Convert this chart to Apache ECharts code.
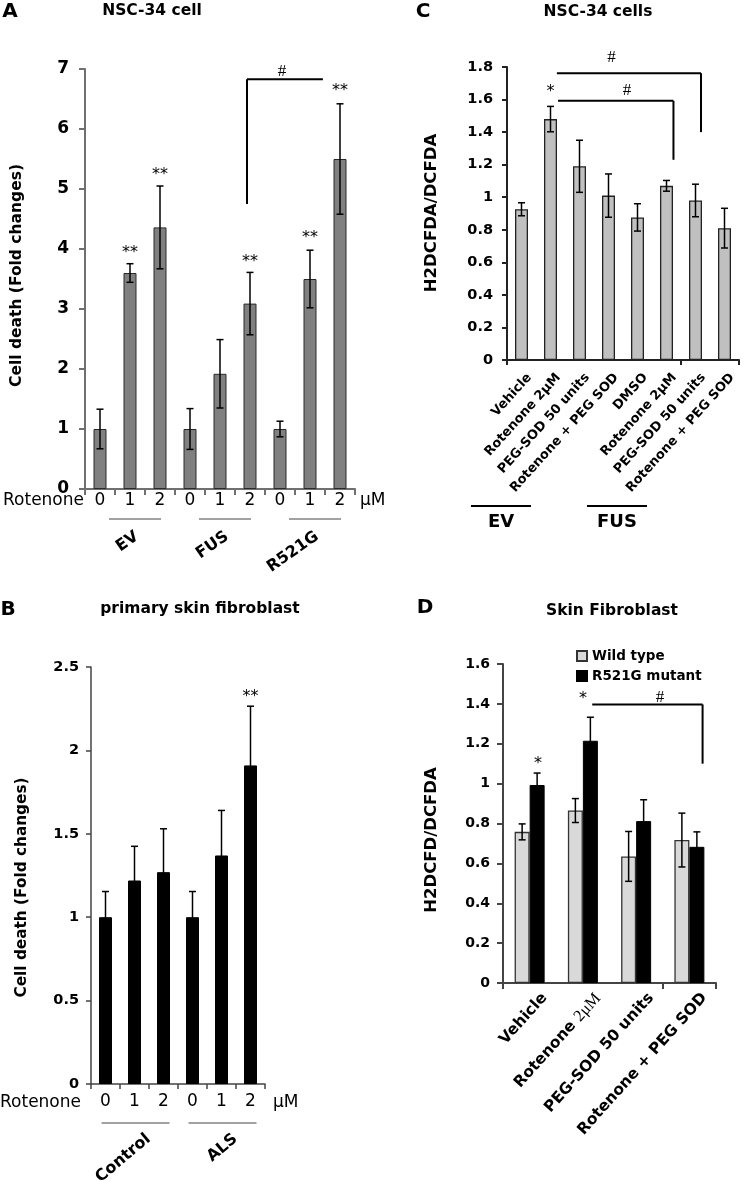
<!DOCTYPE html>
<html><head><meta charset="utf-8">
<script src="https://cdn.jsdelivr.net/npm/echarts@6/dist/echarts.min.js"></script>
<style>html,body{margin:0;padding:0;background:#fff}#c{width:750px;height:1181px}</style>
</head><body><div id="c"></div>
<script>
// ---------------- data ----------------
// Panel A: NSC-34 cell, cell death (fold changes)
const categoriesA = ['0', '1', '2', '0', '1', '2', '0', '1', '2'];
const valuesA = [1.0, 3.6, 4.36, 1.0, 1.92, 3.09, 1.0, 3.5, 5.5];
const errorsA = [0.33, 0.155, 0.69, 0.34, 0.57, 0.52, 0.13, 0.48, 0.92];
const groupsA = [['EV', 0, 2], ['FUS', 3, 5], ['R521G', 6, 8]];
const starsA = [[1, 4.0, '**'], [2, 5.29, '**'], [5, 3.85, '**'], [7, 4.24, '**'], [8, 6.7, '**']];
// bracket: [xStart, xEnd, yLine, xDrop, yDropEnd, label, xLabel, yLabel] (category units / data values)
const bracketsA = [[4.9, 7.43, 6.83, 4.9, 4.75, '#', 6.07, 6.95]];
const ticksA = [0, 7, 1];

// Panel B: primary skin fibroblast
const categoriesB = ['0', '1', '2', '0', '1', '2'];
const valuesB = [1.0, 1.22, 1.27, 1.0, 1.37, 1.91];
const errorsB = [0.154, 0.205, 0.26, 0.154, 0.27, 0.355];
const groupsB = [['Control', 0, 2], ['ALS', 3, 5]];
const starsB = [[5, 2.344, '**']];
const ticksB = [0, 2.5, 0.5];

// Panel C: NSC-34 cells, H2DCFDA/DCFDA
const categoriesC = ['Vehicle', 'Rotenone 2μM', 'PEG-SOD 50 units', 'Rotenone + PEG SOD', 'DMSO', 'Rotenone 2μM', 'PEG-SOD 50 units', 'Rotenone + PEG SOD'];
const valuesC = [0.926, 1.48, 1.19, 1.01, 0.876, 1.07, 0.98, 0.81];
const errorsC = [0.04, 0.078, 0.16, 0.133, 0.084, 0.033, 0.1, 0.122];
const groupsC = [['EV', 0, 3], ['FUS', 4, 7]];
const starsC = [[1, 1.667, '*']];
const bracketsC = [[1.22, 6.19, 1.762, 6.19, 1.40, '#', 3.1, 1.857], [1.26, 5.24, 1.592, 5.24, 1.23, '#', 3.64, 1.658]];
const ticksC = [0, 1.8, 0.2];

// Panel D: Skin Fibroblast
const categoriesD = ['Vehicle', 'Rotenone 2μM', 'PEG-SOD 50 units', 'Rotenone + PEG SOD'];
const seriesNamesD = ['Wild type', 'R521G mutant'];
const wildTypeD = [0.758, 0.865, 0.635, 0.717];
const wildTypeErrD = [0.04, 0.06, 0.125, 0.135];
const mutantD = [0.993, 1.215, 0.812, 0.683];
const mutantErrD = [0.06, 0.118, 0.107, 0.075];
const starsD = [[0.157, 1.12, '*'], [1.0, 1.442, '*']];
const bracketsD = [[1.176, 3.248, 1.397, 3.248, 1.10, '#', 2.45, 1.43]];
const ticksD = [0, 1.6, 0.2];

// ---------------- drawing ----------------
const FONT = 'DejaVu Sans';
const chart = echarts.init(document.getElementById('c'), null, { renderer: 'canvas' });

function xAx(gridIndex, cats, o) {
  return {
    type: 'category', gridIndex, data: cats, boundaryGap: true,
    axisLine: { show: true, lineStyle: { color: o.color, width: o.width } },
    axisTick: { show: true, length: o.tick, lineStyle: { color: o.color, width: o.width } },
    axisLabel: o.label ? { show: true, interval: 0, margin: o.margin, fontFamily: FONT, fontSize: o.fontSize, color: '#000' } : { show: false },
    splitLine: { show: false }
  };
}
function yAx(gridIndex, t, o) {
  return {
    type: 'value', gridIndex, min: t[0], max: t[1], interval: t[2],
    axisLine: { show: true, lineStyle: { color: o.color, width: o.width } },
    axisTick: { show: true, length: o.tick, lineStyle: { color: o.color, width: o.width } },
    axisLabel: { margin: o.margin, fontFamily: FONT, fontWeight: 'bold', fontSize: o.fontSize, color: '#000' },
    splitLine: { show: false }
  };
}
function errRender(offset) {
  return function (params, api) {
    const i = api.value(0), v = api.value(1), e = api.value(2);
    const x = api.coord([i, v])[0] + offset;
    const yT = api.coord([i, v + e])[1];
    const yB = api.coord([i, v - e])[1];
    const c = 3.5, st = { stroke: '#000', lineWidth: 1.5 };
    return { type: 'group', children: [
      { type: 'line', shape: { x1: x, y1: yT, x2: x, y2: yB }, style: st },
      { type: 'line', shape: { x1: x - c, y1: yT, x2: x + c, y2: yT }, style: st },
      { type: 'line', shape: { x1: x - c, y1: yB, x2: x + c, y2: yB }, style: st }
    ] };
  };
}
function errSeries(idx, vals, errs, offset) {
  return { type: 'custom', xAxisIndex: idx, yAxisIndex: idx, z: 4, silent: true,
    data: vals.map((v, i) => [i, v, errs[i]]), encode: { x: 0, y: 1 }, renderItem: errRender(offset) };
}
function annotRender(cfg) {
  return function (params, api) {
    const bw = api.size([1, 0])[0];
    const c0 = api.coord([0, 0]);
    const cx = v => c0[0] + v * bw;
    const Y = v => api.coord([0, v])[1];
    const axisY = c0[1];
    const ch = [];
    const txt = (x, y, text, o) => ({ type: 'text', x, y, rotation: o.rot || 0,
      style: { text, fontFamily: o.family || FONT, fontSize: o.size, fontWeight: o.weight || 'normal', fill: '#000',
        align: o.align || 'center', verticalAlign: o.va || 'middle', rich: o.rich || {} } });
    (cfg.stars || []).forEach(s => ch.push(txt(cx(s[0]), Y(s[1]) + 0.23 * cfg.starSize, s[2], { size: cfg.starSize })));
    (cfg.brackets || []).forEach(b => {
      const st = { stroke: '#000', lineWidth: 2 };
      ch.push({ type: 'line', shape: { x1: cx(b[0]), y1: Y(b[2]), x2: cx(b[1]), y2: Y(b[2]) }, style: st });
      ch.push({ type: 'line', shape: { x1: cx(b[3]), y1: Y(b[2]), x2: cx(b[3]), y2: Y(b[4]) }, style: st });
      ch.push(txt(cx(b[6]), Y(b[7]), b[5], { size: 17, family: 'Liberation Serif' }));
    });
    const g = cfg.group;
    (cfg.groups || []).forEach(gr => {
      const gc = (cx(gr[1]) + cx(gr[2])) / 2 + g.dx;
      const ly = axisY + g.dy;
      ch.push({ type: 'line', shape: { x1: gc - g.half, y1: ly, x2: gc + g.half, y2: ly }, style: { stroke: g.color, lineWidth: g.lw } });
      ch.push(txt(gc + g.tdx, ly + g.tdy, gr[0], { size: g.size, weight: 'bold', rot: g.rot * Math.PI / 180, align: g.align }));
    });
    if (cfg.unit) {
      const u = cfg.unit, n = cfg.n;
      ch.push(txt(cx(-0.5) + u.dxL, axisY + u.dy, 'Rotenone', { size: u.size, align: 'right' }));
      ch.push(txt(cx(n - 0.5) + u.dxR, axisY + u.dy, 'μM', { size: u.size, align: 'left' }));
    }
    if (cfg.xlabels) {
      const xl = cfg.xlabels;
      xl.cats.forEach((c, i) => {
        let text = c, rich = {};
        if (xl.serifUnit && c.indexOf('2μM') >= 0) {
          text = c.replace('2μM', '{s|2μM}');
          rich = { s: { fontFamily: 'Liberation Serif', fontWeight: 'normal', fontSize: xl.size + 1, fill: '#000' } };
        }
        ch.push(txt(cx(i) + xl.dx, axisY + xl.dy, text, { size: xl.size, weight: 'bold', rot: xl.rot * Math.PI / 180, align: 'right', va: 'top', rich }));
      });
    }
    return { type: 'group', children: ch };
  };
}
function annotSeries(idx, cfg) {
  return { type: 'custom', xAxisIndex: idx, yAxisIndex: idx, z: 6, silent: true, clip: false,
    data: [[0, 0]], encode: { x: 0, y: 1 }, renderItem: annotRender(cfg) };
}

const option = {
  animation: false,
  backgroundColor: '#fff',
  grid: [
    { left: 85, top: 69, width: 270, height: 420, outerBoundsMode: 'none', containLabel: false },
    { left: 91, top: 667, width: 174, height: 417, outerBoundsMode: 'none', containLabel: false },
    { left: 507, top: 67, width: 232, height: 293, outerBoundsMode: 'none', containLabel: false },
    { left: 503, top: 664, width: 213, height: 319, outerBoundsMode: 'none', containLabel: false }
  ],
  xAxis: [
    xAx(0, categoriesA, { color: '#707070', width: 2, tick: 6, label: true, margin: 3, fontSize: 17 }),
    xAx(1, categoriesB, { color: '#444', width: 1.5, tick: 5, label: true, margin: 9, fontSize: 17 }),
    xAx(2, categoriesC, { color: '#222', width: 2, tick: 5, label: false }),
    xAx(3, categoriesD, { color: '#444', width: 2, tick: 6, label: false })
  ],
  yAxis: [
    yAx(0, ticksA, { color: '#707070', width: 2, tick: 6, margin: 16, fontSize: 17 }),
    yAx(1, ticksB, { color: '#444', width: 1.5, tick: 5, margin: 12, fontSize: 14.5 }),
    yAx(2, ticksC, { color: '#222', width: 2, tick: 5, margin: 14, fontSize: 14.5 }),
    yAx(3, ticksD, { color: '#444', width: 2, tick: 6, margin: 13, fontSize: 14 })
  ],
  legend: {
    data: seriesNamesD, orient: 'vertical', left: 571, top: 644, itemWidth: 10, itemHeight: 10, itemGap: 6,
    icon: 'rect', textStyle: { fontFamily: FONT, fontWeight: 'bold', fontSize: 13.5, color: '#000', lineHeight: 14 }
  },
  series: [
    { type: 'bar', name: 'A', xAxisIndex: 0, yAxisIndex: 0, data: valuesA, barWidth: 13,
      itemStyle: { color: '#808080', borderColor: '#2a2a2a', borderWidth: 1 } },
    errSeries(0, valuesA, errorsA, 0),
    annotSeries(0, { stars: starsA, starSize: 16, brackets: bracketsA, groups: groupsA,
      group: { dx: 5, half: 26, dy: 30, color: '#444', lw: 1, tdx: 2, tdy: 16, rot: 35, size: 16, align: 'right' },
      unit: { dxL: -1, dxR: 5, dy: 12, size: 17 }, n: categoriesA.length }),

    { type: 'bar', name: 'B', xAxisIndex: 1, yAxisIndex: 1, data: valuesB, barWidth: 13,
      itemStyle: { color: '#000', borderColor: '#000', borderWidth: 1 } },
    errSeries(1, valuesB, errorsB, 0),
    annotSeries(1, { stars: starsB, starSize: 16, groups: groupsB,
      group: { dx: 1, half: 34, dy: 39, color: '#444', lw: 1, tdx: 13, tdy: 14, rot: 40, size: 16, align: 'right' },
      unit: { dxL: -10, dxR: 8, dy: 19, size: 17 }, n: categoriesB.length }),

    { type: 'bar', name: 'C', xAxisIndex: 2, yAxisIndex: 2, data: valuesC, barWidth: 13,
      itemStyle: { color: '#c0c0c0', borderColor: '#222', borderWidth: 1.3 } },
    errSeries(2, valuesC, errorsC, 0),
    annotSeries(2, { stars: starsC, starSize: 16, brackets: bracketsC, groups: groupsC,
      group: { dx: -64, half: 30, dy: 146, color: '#000', lw: 2, tdx: 0, tdy: 16, rot: 0, size: 18, align: 'center' },
      xlabels: { cats: categoriesC, dx: 3, dy: 11, size: 13, rot: 48 } }),

    { type: 'bar', name: seriesNamesD[0], xAxisIndex: 3, yAxisIndex: 3, data: wildTypeD, barWidth: 15, barGap: '0%',
      itemStyle: { color: '#d9d9d9', borderColor: '#333', borderWidth: 1.3 } },
    { type: 'bar', name: seriesNamesD[1], xAxisIndex: 3, yAxisIndex: 3, data: mutantD, barWidth: 15, barGap: '0%',
      itemStyle: { color: '#000', borderColor: '#000', borderWidth: 1 } },
    errSeries(3, wildTypeD, wildTypeErrD, -7.5),
    errSeries(3, mutantD, mutantErrD, 7.5),
    annotSeries(3, { stars: starsD, starSize: 16, brackets: bracketsD,
      xlabels: { cats: categoriesD, dx: 9, dy: 7, size: 15.5, rot: 48, serifUnit: true } })
  ],
  graphic: [
    { type: 'text', x: 10, y: 12, style: { text: 'A', fontFamily: FONT, fontWeight: 'bold', fontSize: 20, fill: '#000', align: 'center', verticalAlign: 'middle' } },
    { type: 'text', x: 152, y: 10.5, style: { text: 'NSC-34 cell', fontFamily: FONT, fontWeight: 'bold', fontSize: 15.5, fill: '#000', align: 'center', verticalAlign: 'middle' } },
    { type: 'text', x: 8, y: 610, style: { text: 'B', fontFamily: FONT, fontWeight: 'bold', fontSize: 20, fill: '#000', align: 'center', verticalAlign: 'middle' } },
    { type: 'text', x: 200, y: 609, style: { text: 'primary skin fibroblast', fontFamily: FONT, fontWeight: 'bold', fontSize: 15.5, fill: '#000', align: 'center', verticalAlign: 'middle' } },
    { type: 'text', x: 423, y: 12, style: { text: 'C', fontFamily: FONT, fontWeight: 'bold', fontSize: 20, fill: '#000', align: 'center', verticalAlign: 'middle' } },
    { type: 'text', x: 598, y: 12, style: { text: 'NSC-34 cells', fontFamily: FONT, fontWeight: 'bold', fontSize: 15.5, fill: '#000', align: 'center', verticalAlign: 'middle' } },
    { type: 'text', x: 425, y: 608, style: { text: 'D', fontFamily: FONT, fontWeight: 'bold', fontSize: 20, fill: '#000', align: 'center', verticalAlign: 'middle' } },
    { type: 'text', x: 612, y: 611, style: { text: 'Skin Fibroblast', fontFamily: FONT, fontWeight: 'bold', fontSize: 15.5, fill: '#000', align: 'center', verticalAlign: 'middle' } },
    { type: 'text', x: 17, y: 275.5, rotation: Math.PI / 2, style: { text: 'Cell death (Fold changes)', fontFamily: FONT, fontWeight: 'bold', fontSize: 15.5, fill: '#000', align: 'center', verticalAlign: 'middle' } },
    { type: 'text', x: 22, y: 887.5, rotation: Math.PI / 2, style: { text: 'Cell death (Fold changes)', fontFamily: FONT, fontWeight: 'bold', fontSize: 15.3, fill: '#000', align: 'center', verticalAlign: 'middle' } },
    { type: 'text', x: 432, y: 213, rotation: Math.PI / 2, style: { text: 'H2DCFDA/DCFDA', fontFamily: FONT, fontWeight: 'bold', fontSize: 16.5, fill: '#000', align: 'center', verticalAlign: 'middle' } },
    { type: 'text', x: 432, y: 840, rotation: Math.PI / 2, style: { text: 'H2DCFD/DCFDA', fontFamily: FONT, fontWeight: 'bold', fontSize: 16.5, fill: '#000', align: 'center', verticalAlign: 'middle' } }
  ]
};
chart.setOption(option);
</script>
</body></html>
